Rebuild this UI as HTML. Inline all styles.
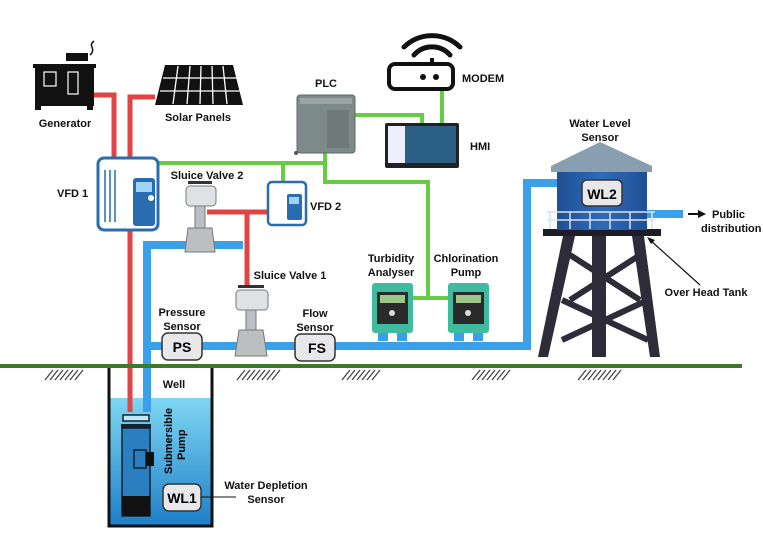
<!DOCTYPE html>
<html><head><meta charset="utf-8"><style>
html,body{margin:0;padding:0;background:#fff;}
svg{display:block;font-family:"Liberation Sans",Arial,sans-serif;font-weight:bold;}
</style></head><body>
<svg width="763" height="546" viewBox="0 0 763 546" xmlns="http://www.w3.org/2000/svg">
<defs>
<linearGradient id="wat" x1="0" y1="0" x2="0" y2="1"><stop offset="0" stop-color="#7fd6f2"/><stop offset="1" stop-color="#1f7fc8"/></linearGradient>
<linearGradient id="tank" x1="0" y1="0" x2="1" y2="0"><stop offset="0" stop-color="#1f4f94"/><stop offset="0.5" stop-color="#2f6cb8"/><stop offset="1" stop-color="#1f4f94"/></linearGradient>
</defs>
<rect x="109" y="398" width="102" height="127" fill="url(#wat)"/>
<path d="M109 367 V526 H212 V367" fill="none" stroke="#111" stroke-width="3"/>
<g stroke="#e04444" stroke-width="5" fill="none">
<path d="M93 95 H114 V160"/>
<path d="M155 97 H130 V160"/>
<path d="M130 228 V412"/>
<path d="M207 212 H270"/>
<path d="M247 212 V287"/>
</g>
<g stroke="#66cc44" stroke-width="4" fill="none">
<path d="M150 163 H325"/>
<path d="M283 163 V182"/>
<path d="M325 150 V182 H428 V298"/>
<path d="M410 298 H450"/>
<path d="M354 115 H422 V124"/>
<path d="M442 88 V124"/>
</g>
<g stroke="#3aa0ea" stroke-width="8" fill="none">
<path d="M147 412 V245 H243"/>
<path d="M147 346 H527 V183 H558"/>
<path d="M645 214 H683"/>
</g>
<rect x="0" y="364" width="742" height="4" fill="#3a7a2a"/>
<g stroke="#444" stroke-width="1.3">
<path d="M45 380 l8 -10 M50 380 l8 -10 M55 380 l8 -10 M60 380 l8 -10 M65 380 l8 -10 M70 380 l8 -10 M75 380 l8 -10"/>
<path d="M237 380 l8 -10 M242 380 l8 -10 M247 380 l8 -10 M252 380 l8 -10 M257 380 l8 -10 M262 380 l8 -10 M267 380 l8 -10 M272 380 l8 -10"/>
<path d="M342 380 l8 -10 M347 380 l8 -10 M352 380 l8 -10 M357 380 l8 -10 M362 380 l8 -10 M367 380 l8 -10 M372 380 l8 -10"/>
<path d="M472 380 l8 -10 M477 380 l8 -10 M482 380 l8 -10 M487 380 l8 -10 M492 380 l8 -10 M497 380 l8 -10 M502 380 l8 -10"/>
<path d="M578 380 l8 -10 M583 380 l8 -10 M588 380 l8 -10 M593 380 l8 -10 M598 380 l8 -10 M603 380 l8 -10 M608 380 l8 -10 M613 380 l8 -10"/>
</g>
<rect x="66" y="53" width="22" height="8" fill="#111"/><path d="M90 55 q4 -3 2 -8 q-2 -3 2 -6" stroke="#111" fill="none" stroke-width="1.5"/>
<rect x="33" y="64" width="63" height="4" fill="#111"/>
<rect x="35" y="68" width="59" height="38" fill="#111"/>
<rect x="44" y="72" width="12" height="14" fill="none" stroke="#fff" stroke-width="1.2"/>
<rect x="68" y="72" width="10" height="22" fill="none" stroke="#fff" stroke-width="1.2"/>
<rect x="35" y="106" width="6" height="4" fill="#111"/><rect x="87" y="106" width="6" height="4" fill="#111"/>
<polygon points="165,65 233,65 243,105 155,105" fill="#111"/>
<g stroke="#fff" stroke-width="1.3"><path d="M163 78 H237 M160 91 H240"/><path d="M178 66 L173 104 M190 66 L187 104 M201 66 L200 104 M212 66 L213 104 M223 66 L227 104"/></g>
<g><rect x="98" y="158" width="60" height="72" rx="6" fill="#fff" stroke="#2a6cb0" stroke-width="3"/>
<rect x="133" y="178" width="22" height="48" rx="3" fill="#2a6cb0"/><rect x="136" y="182" width="16" height="10" fill="#9fd3f5"/><circle cx="151" cy="198" r="3" fill="#fff"/>
<path d="M105 170 V222 M110 170 V222 M115 170 V222" stroke="#2a6cb0" stroke-width="1.5"/></g>
<rect x="268" y="182" width="38" height="43" rx="4" fill="#fff" stroke="#2a6cb0" stroke-width="2.5"/>
<rect x="287" y="194" width="15" height="26" rx="2" fill="#2a6cb0"/><rect x="289" y="197" width="10" height="7" fill="#9fd3f5"/>
<g fill="#bcbfc2" stroke="#777" stroke-width="1">
<rect x="186" y="186" width="30" height="20" rx="4" fill="#dfe2e4"/>
<rect x="195" y="206" width="10" height="22"/>
<polygon points="188,228 212,228 215,252 185,252"/>
</g>
<rect x="188" y="181" width="24" height="3" fill="#333"/>
<g fill="#bcbfc2" stroke="#777" stroke-width="1">
<rect x="236" y="290" width="32" height="20" rx="4" fill="#dfe2e4"/>
<rect x="246" y="310" width="10" height="20"/>
<polygon points="239,330 263,330 267,356 235,356"/>
</g>
<rect x="238" y="285" width="26" height="3" fill="#333"/>
<rect x="297" y="95" width="58" height="58" rx="3" fill="#7d8a8a" stroke="#5d6868"/>
<rect x="300" y="98" width="52" height="6" fill="#9aa4a4"/><rect x="327" y="110" width="22" height="38" fill="#6e7a7a"/>
<circle cx="296" cy="153" r="2" fill="#555"/>
<rect x="389" y="64" width="64" height="25" rx="6" fill="#fff" stroke="#111" stroke-width="4"/>
<circle cx="423" cy="77" r="3" fill="#111"/><circle cx="436" cy="77" r="3" fill="#111"/>
<path d="M404 47 a40 40 0 0 1 56 0" fill="none" stroke="#111" stroke-width="5" stroke-linecap="round"/>
<path d="M414 55 a24 24 0 0 1 36 0" fill="none" stroke="#111" stroke-width="5" stroke-linecap="round"/>
<line x1="432" y1="58" x2="432" y2="64" stroke="#111" stroke-width="4"/>
<rect x="385" y="123" width="74" height="45" rx="2" fill="#222"/>
<rect x="388" y="126" width="68" height="37" fill="#2b5f86"/><rect x="388" y="126" width="17" height="37" fill="#eef"/>
<g><rect x="372" y="283" width="41" height="50" rx="3" fill="#3fbba0"/><rect x="377" y="292" width="31" height="32" fill="#2a2a2a"/><rect x="380" y="295" width="25" height="8" fill="#9ec68a"/><circle cx="392" cy="313" r="3" fill="#ddd"/>
<rect x="378" y="333" width="10" height="8" fill="#3aa0ea"/><rect x="397" y="333" width="10" height="8" fill="#3aa0ea"/></g>
<g><rect x="448" y="283" width="41" height="50" rx="3" fill="#3fbba0"/><rect x="453" y="292" width="31" height="32" fill="#2a2a2a"/><rect x="456" y="295" width="25" height="8" fill="#9ec68a"/><circle cx="468" cy="313" r="3" fill="#ddd"/>
<rect x="454" y="333" width="10" height="8" fill="#3aa0ea"/><rect x="473" y="333" width="10" height="8" fill="#3aa0ea"/></g>
<rect x="162" y="333" width="40" height="27" rx="6" fill="#e8e8ea" stroke="#333" stroke-width="1.5"/>
<text x="182" y="352" font-size="14" text-anchor="middle">PS</text>
<rect x="295" y="334" width="40" height="27" rx="6" fill="#e8e8ea" stroke="#333" stroke-width="1.5"/>
<text x="317" y="353" font-size="14" text-anchor="middle">FS</text>
<rect x="123" y="415" width="26" height="6" fill="#bfe8f7" stroke="#123" stroke-width="1.5"/>
<rect x="121" y="424" width="30" height="4" fill="#123"/>
<rect x="122" y="428" width="28" height="88" fill="#2a7fc0" stroke="#123" stroke-width="1.5"/>
<rect x="134" y="450" width="12" height="18" fill="none" stroke="#123" stroke-width="1.5"/><rect x="146" y="452" width="8" height="14" fill="#111"/>
<rect x="122" y="496" width="28" height="20" fill="#111"/>
<rect x="163" y="484" width="38" height="27" rx="6" fill="#e8e8ea" stroke="#333" stroke-width="1.5"/>
<text x="182" y="503" font-size="14" text-anchor="middle">WL1</text>
<line x1="201" y1="497" x2="236" y2="497" stroke="#111" stroke-width="1"/>
<text transform="translate(176,474) rotate(-90)" font-size="11"><tspan x="0" y="-4">Submersible</tspan><tspan x="14" y="9">Pump</tspan></text>
<g fill="#2e2c38">
<polygon points="563,236 575,236 548,357 538,357"/>
<polygon points="632,236 644,236 660,357 650,357"/>
<rect x="592" y="236" width="14" height="121"/>
<path d="M570 255 L640 300 M640 255 L570 300 M562 300 L648 340 M648 300 L562 340" stroke="#2e2c38" stroke-width="6"/>
</g>
<rect x="543" y="229" width="118" height="7" fill="#1e1c28"/>
<polygon points="600,142 551,166 551,172 652,172 652,166" fill="#8a9eb2"/>
<rect x="557" y="172" width="90" height="58" fill="url(#tank)"/>
<rect x="582" y="180" width="40" height="26" rx="5" fill="#e8e8ea" stroke="#333" stroke-width="1.5"/>
<text x="602" y="199" font-size="14" text-anchor="middle">WL2</text>
<g stroke="#d8e2ec" stroke-width="1.5" fill="none"><path d="M547 212 H655 M547 220 H655 M550 212 V229 M570 212 V229 M590 212 V229 M610 212 V229 M630 212 V229 M652 212 V229"/></g>
<line x1="688" y1="214" x2="700" y2="214" stroke="#111" stroke-width="2"/><polygon points="698,210 706,214 698,218" fill="#111"/>
<line x1="700" y1="285" x2="650" y2="240" stroke="#111" stroke-width="1.2"/><polygon points="647,237 655,240 651,244" fill="#111"/>
<g font-size="11" fill="#111">
<text x="65" y="127" text-anchor="middle">Generator</text>
<text x="198" y="121" text-anchor="middle">Solar Panels</text>
<text x="326" y="87" text-anchor="middle">PLC</text>
<text x="462" y="82">MODEM</text>
<text x="470" y="150">HMI</text>
<text x="57" y="197">VFD 1</text>
<text x="310" y="210">VFD 2</text>
<text x="207" y="179" text-anchor="middle">Sluice Valve 2</text>
<text x="290" y="279" text-anchor="middle">Sluice Valve 1</text>
<text x="182" y="316" text-anchor="middle">Pressure</text><text x="182" y="330" text-anchor="middle">Sensor</text>
<text x="315" y="317" text-anchor="middle">Flow</text><text x="315" y="331" text-anchor="middle">Sensor</text>
<text x="391" y="262" text-anchor="middle">Turbidity</text><text x="391" y="276" text-anchor="middle">Analyser</text>
<text x="466" y="262" text-anchor="middle">Chlorination</text><text x="466" y="276" text-anchor="middle">Pump</text>
<text x="174" y="388" text-anchor="middle">Well</text>
<text x="266" y="489" text-anchor="middle">Water Depletion</text><text x="266" y="503" text-anchor="middle">Sensor</text>
<text x="600" y="127" text-anchor="middle">Water Level</text><text x="600" y="141" text-anchor="middle">Sensor</text>
<text x="712" y="218">Public</text><text x="701" y="232">distribution</text>
<text x="706" y="296" text-anchor="middle">Over Head Tank</text>
</g>
</svg>
</body></html>
